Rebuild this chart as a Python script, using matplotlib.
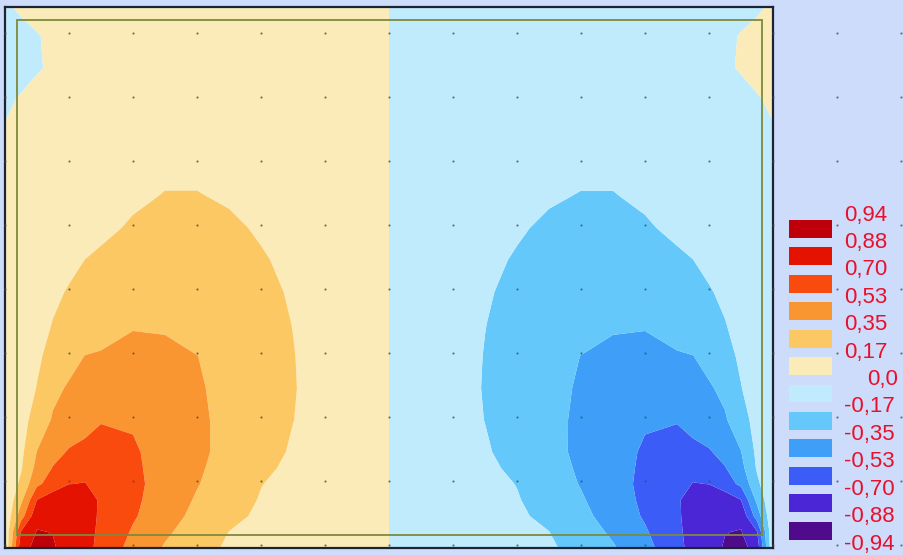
import numpy as np
import matplotlib
matplotlib.use('Agg')
import matplotlib.pyplot as plt
from matplotlib.patches import Rectangle

# ---------------- data ----------------
levels = [-0.94, -0.88, -0.70, -0.53, -0.35, -0.17, 0.0, 0.17, 0.35, 0.53, 0.70, 0.88, 0.94]
legend_labels = ['0,94', '0,88', '0,70', '0,53', '0,35', '0,17', '0,0',
                 '-0,17', '-0,35', '-0,53', '-0,70', '-0,88', '-0,94']
# band colours from lowest (-0.94..-0.88) to highest (0.88..0.94)
band_colors = ['#500a8c', '#4b26d7', '#3c5cf8', '#3e9ef8', '#64c8fa', '#c0ebfc',
               '#faebb9', '#fbc864', '#fa9632', '#fa4b0f', '#e41200', '#be000a']

x_left = [0, 0.25, 0.5, 0.75, 1.0, 1.25, 1.5, 2.0, 2.5, 3.0, 3.5, 4.0, 4.5, 5.0, 5.5]
x_mid = [6.0]
x_right = [6.5, 7.0, 7.5, 8.0, 8.5, 9.0, 9.5, 10.0, 10.5, 10.75, 11.0, 11.25, 11.5, 11.75, 12.0]
y_rows = [0, 0.25, 0.5, 0.75, 1.0, 1.25, 1.5, 2.0, 2.5, 3.0, 3.5, 4.0, 4.5, 5.0, 5.5,
          6.0, 6.5, 7.0, 7.5, 8.0, 8.5]

left_half = [
    [0.01, 0.81, 0.935, 0.895, 0.82, 0.745, 0.66, 0.47, 0.334, 0.22, 0.15, 0.12, 0.09, 0.06, 0.03],
    [0.01, 0.71, 0.89, 0.875, 0.80, 0.743, 0.676, 0.511, 0.377, 0.269, 0.168, 0.13, 0.10, 0.065, 0.033],
    [0.01, 0.45, 0.83, 0.85, 0.79, 0.74, 0.686, 0.549, 0.42, 0.306, 0.208, 0.145, 0.11, 0.075, 0.037],
    [0.01, 0.31, 0.702, 0.80, 0.81, 0.75, 0.685, 0.564, 0.446, 0.333, 0.237, 0.16, 0.12, 0.08, 0.04],
    [0.01, 0.206, 0.496, 0.608, 0.698, 0.705, 0.65, 0.567, 0.469, 0.359, 0.265, 0.174, 0.125, 0.085, 0.043],
    [0.01, 0.153, 0.404, 0.54, 0.60, 0.66, 0.626, 0.557, 0.471, 0.373, 0.285, 0.20, 0.14, 0.095, 0.048],
    [0.01, 0.131, 0.355, 0.467, 0.547, 0.586, 0.60, 0.548, 0.472, 0.384, 0.301, 0.222, 0.155, 0.105, 0.052],
    [0.01, 0.108, 0.24, 0.369, 0.412, 0.455, 0.52, 0.515, 0.431, 0.376, 0.312, 0.241, 0.172, 0.115, 0.058],
    [0.01, 0.092, 0.175, 0.308, 0.369, 0.397, 0.425, 0.453, 0.409, 0.366, 0.308, 0.242, 0.177, 0.12, 0.06],
    [0.01, 0.078, 0.146, 0.217, 0.291, 0.353, 0.369, 0.404, 0.379, 0.352, 0.294, 0.234, 0.174, 0.12, 0.06],
    [0.01, 0.066, 0.123, 0.175, 0.203, 0.232, 0.26, 0.335, 0.335, 0.285, 0.246, 0.207, 0.168, 0.115, 0.058],
    [0.01, 0.055, 0.10, 0.145, 0.18, 0.203, 0.225, 0.27, 0.295, 0.262, 0.228, 0.194, 0.16, 0.11, 0.055],
    [0.01, 0.042, 0.075, 0.107, 0.139, 0.171, 0.19, 0.227, 0.263, 0.234, 0.206, 0.178, 0.15, 0.10, 0.05],
    [0.01, 0.032, 0.055, 0.077, 0.10, 0.122, 0.145, 0.184, 0.216, 0.205, 0.185, 0.16, 0.135, 0.09, 0.045],
    [0.01, 0.028, 0.045, 0.063, 0.08, 0.098, 0.115, 0.15, 0.175, 0.174, 0.16, 0.145, 0.12, 0.08, 0.04],
    [0.01, 0.025, 0.04, 0.055, 0.07, 0.085, 0.10, 0.125, 0.145, 0.15, 0.145, 0.13, 0.11, 0.075, 0.038],
    [0.005, 0.018, 0.03, 0.045, 0.06, 0.072, 0.085, 0.105, 0.12, 0.13, 0.128, 0.118, 0.10, 0.07, 0.035],
    [-0.01, 0.005, 0.02, 0.035, 0.05, 0.06, 0.07, 0.09, 0.105, 0.112, 0.11, 0.10, 0.085, 0.06, 0.03],
    [-0.03, -0.018, -0.005, 0.008, 0.02, 0.032, 0.045, 0.065, 0.08, 0.09, 0.09, 0.085, 0.072, 0.05, 0.025],
    [-0.03, -0.015, -0.003, 0.01, 0.02, 0.03, 0.04, 0.055, 0.068, 0.075, 0.075, 0.07, 0.06, 0.042, 0.021],
    [-0.005, 0.01, 0.02, 0.03, 0.038, 0.045, 0.05, 0.06, 0.068, 0.072, 0.072, 0.068, 0.058, 0.04, 0.02],
]
mid_column = [0.0] * 21
right_half = [
    [-0.03, -0.06, -0.09, -0.12, -0.15, -0.22, -0.334, -0.47, -0.66, -0.745, -0.82, -0.895, -0.935, -0.81, -0.01],
    [-0.033, -0.065, -0.10, -0.13, -0.168, -0.269, -0.377, -0.511, -0.676, -0.743, -0.80, -0.875, -0.89, -0.71, -0.01],
    [-0.037, -0.075, -0.11, -0.145, -0.208, -0.306, -0.42, -0.549, -0.686, -0.74, -0.79, -0.85, -0.83, -0.45, -0.01],
    [-0.04, -0.08, -0.12, -0.16, -0.237, -0.333, -0.446, -0.564, -0.685, -0.75, -0.81, -0.80, -0.702, -0.31, -0.01],
    [-0.043, -0.085, -0.125, -0.174, -0.265, -0.359, -0.469, -0.567, -0.65, -0.705, -0.698, -0.608, -0.496, -0.206, -0.01],
    [-0.048, -0.095, -0.14, -0.20, -0.285, -0.373, -0.471, -0.557, -0.626, -0.66, -0.60, -0.54, -0.404, -0.153, -0.01],
    [-0.052, -0.105, -0.155, -0.222, -0.301, -0.384, -0.472, -0.548, -0.60, -0.586, -0.547, -0.467, -0.355, -0.131, -0.01],
    [-0.058, -0.115, -0.172, -0.241, -0.312, -0.376, -0.431, -0.515, -0.52, -0.455, -0.412, -0.369, -0.24, -0.108, -0.01],
    [-0.06, -0.12, -0.177, -0.242, -0.308, -0.366, -0.409, -0.453, -0.425, -0.397, -0.369, -0.308, -0.175, -0.092, -0.01],
    [-0.06, -0.12, -0.174, -0.234, -0.294, -0.352, -0.379, -0.404, -0.369, -0.353, -0.291, -0.217, -0.146, -0.078, -0.01],
    [-0.058, -0.115, -0.168, -0.207, -0.246, -0.285, -0.335, -0.335, -0.26, -0.232, -0.203, -0.175, -0.123, -0.066, -0.01],
    [-0.055, -0.11, -0.16, -0.194, -0.228, -0.262, -0.295, -0.27, -0.225, -0.203, -0.18, -0.145, -0.10, -0.055, -0.01],
    [-0.05, -0.10, -0.15, -0.178, -0.206, -0.234, -0.263, -0.227, -0.19, -0.171, -0.139, -0.107, -0.075, -0.042, -0.01],
    [-0.045, -0.09, -0.135, -0.16, -0.185, -0.205, -0.216, -0.184, -0.145, -0.122, -0.10, -0.077, -0.055, -0.032, -0.01],
    [-0.04, -0.08, -0.12, -0.145, -0.16, -0.174, -0.175, -0.15, -0.115, -0.098, -0.08, -0.063, -0.045, -0.028, -0.01],
    [-0.038, -0.075, -0.11, -0.13, -0.145, -0.15, -0.145, -0.125, -0.10, -0.085, -0.07, -0.055, -0.04, -0.025, -0.01],
    [-0.035, -0.07, -0.10, -0.118, -0.128, -0.13, -0.12, -0.105, -0.085, -0.072, -0.06, -0.045, -0.03, -0.018, -0.005],
    [-0.03, -0.06, -0.085, -0.10, -0.11, -0.112, -0.105, -0.09, -0.07, -0.06, -0.05, -0.035, -0.02, -0.005, 0.01],
    [-0.025, -0.05, -0.072, -0.085, -0.09, -0.09, -0.08, -0.065, -0.045, -0.032, -0.02, -0.008, 0.005, 0.018, 0.03],
    [-0.021, -0.042, -0.06, -0.07, -0.075, -0.075, -0.068, -0.055, -0.04, -0.03, -0.02, -0.01, 0.003, 0.015, 0.03],
    [-0.02, -0.04, -0.058, -0.068, -0.072, -0.072, -0.068, -0.06, -0.05, -0.045, -0.038, -0.03, -0.02, -0.01, 0.005],
]

# ---------------- figure ----------------
W, H = 904, 555
BG = '#cddcfa'
fig = plt.figure(figsize=(W / 100, H / 100), dpi=100, facecolor=BG)

ax = fig.add_axes([5 / W, 7 / H, 768 / W, 541 / H])
x_all = np.array(x_left + x_mid + x_right)
z = np.hstack([np.array(left_half), np.array(mid_column)[:, None], np.array(right_half)])
ax.contourf(x_all, np.array(y_rows), z, levels=levels, colors=band_colors, antialiased=True)
ax.set_xlim(0, 12)
ax.set_ylim(0, 541 / 64)
ax.set_xticks([])
ax.set_yticks([])
for s in ax.spines.values():
    s.set_color('#1c2433')
    s.set_linewidth(1.6)

# inner frame
ax.add_patch(Rectangle((12 / 64, 13 / 64), 745 / 64, 515 / 64, fill=False,
                       edgecolor='#7d8a3c', linewidth=1.3, zorder=3))

# dotted background grid
gx, gy = np.meshgrid(np.arange(0, 15), np.arange(0, 9))
ax.scatter(gx.ravel(), gy.ravel() + 0.05, s=2.5, c='#4a4a4a', alpha=0.75,
           linewidths=0, clip_on=False, zorder=4)

# ---------------- legend ----------------
label_y0, label_step = 215.0, 27.42
box_colors = band_colors[::-1]
for i in range(12):
    top = label_y0 + label_step * i + 5
    bot = label_y0 + label_step * (i + 1) - 4.5
    fig.add_artist(Rectangle((789 / W, 1 - bot / H), 43 / W, (bot - top) / H,
                             transform=fig.transFigure, facecolor=box_colors[i],
                             edgecolor='none', zorder=5))
for i, lab in enumerate(legend_labels):
    py = label_y0 + label_step * i
    if lab == '0,0':
        fig.text(898 / W, 1 - py / H, lab, ha='right', va='center', fontsize=16,
                 color='#e8112d', family='Liberation Sans', zorder=6)
    else:
        fig.text(844 / W, 1 - py / H, lab, ha='left', va='center', fontsize=16,
                 color='#e8112d', family='Liberation Sans', zorder=6)

fig.savefig('out.png', dpi=100, facecolor=BG)
